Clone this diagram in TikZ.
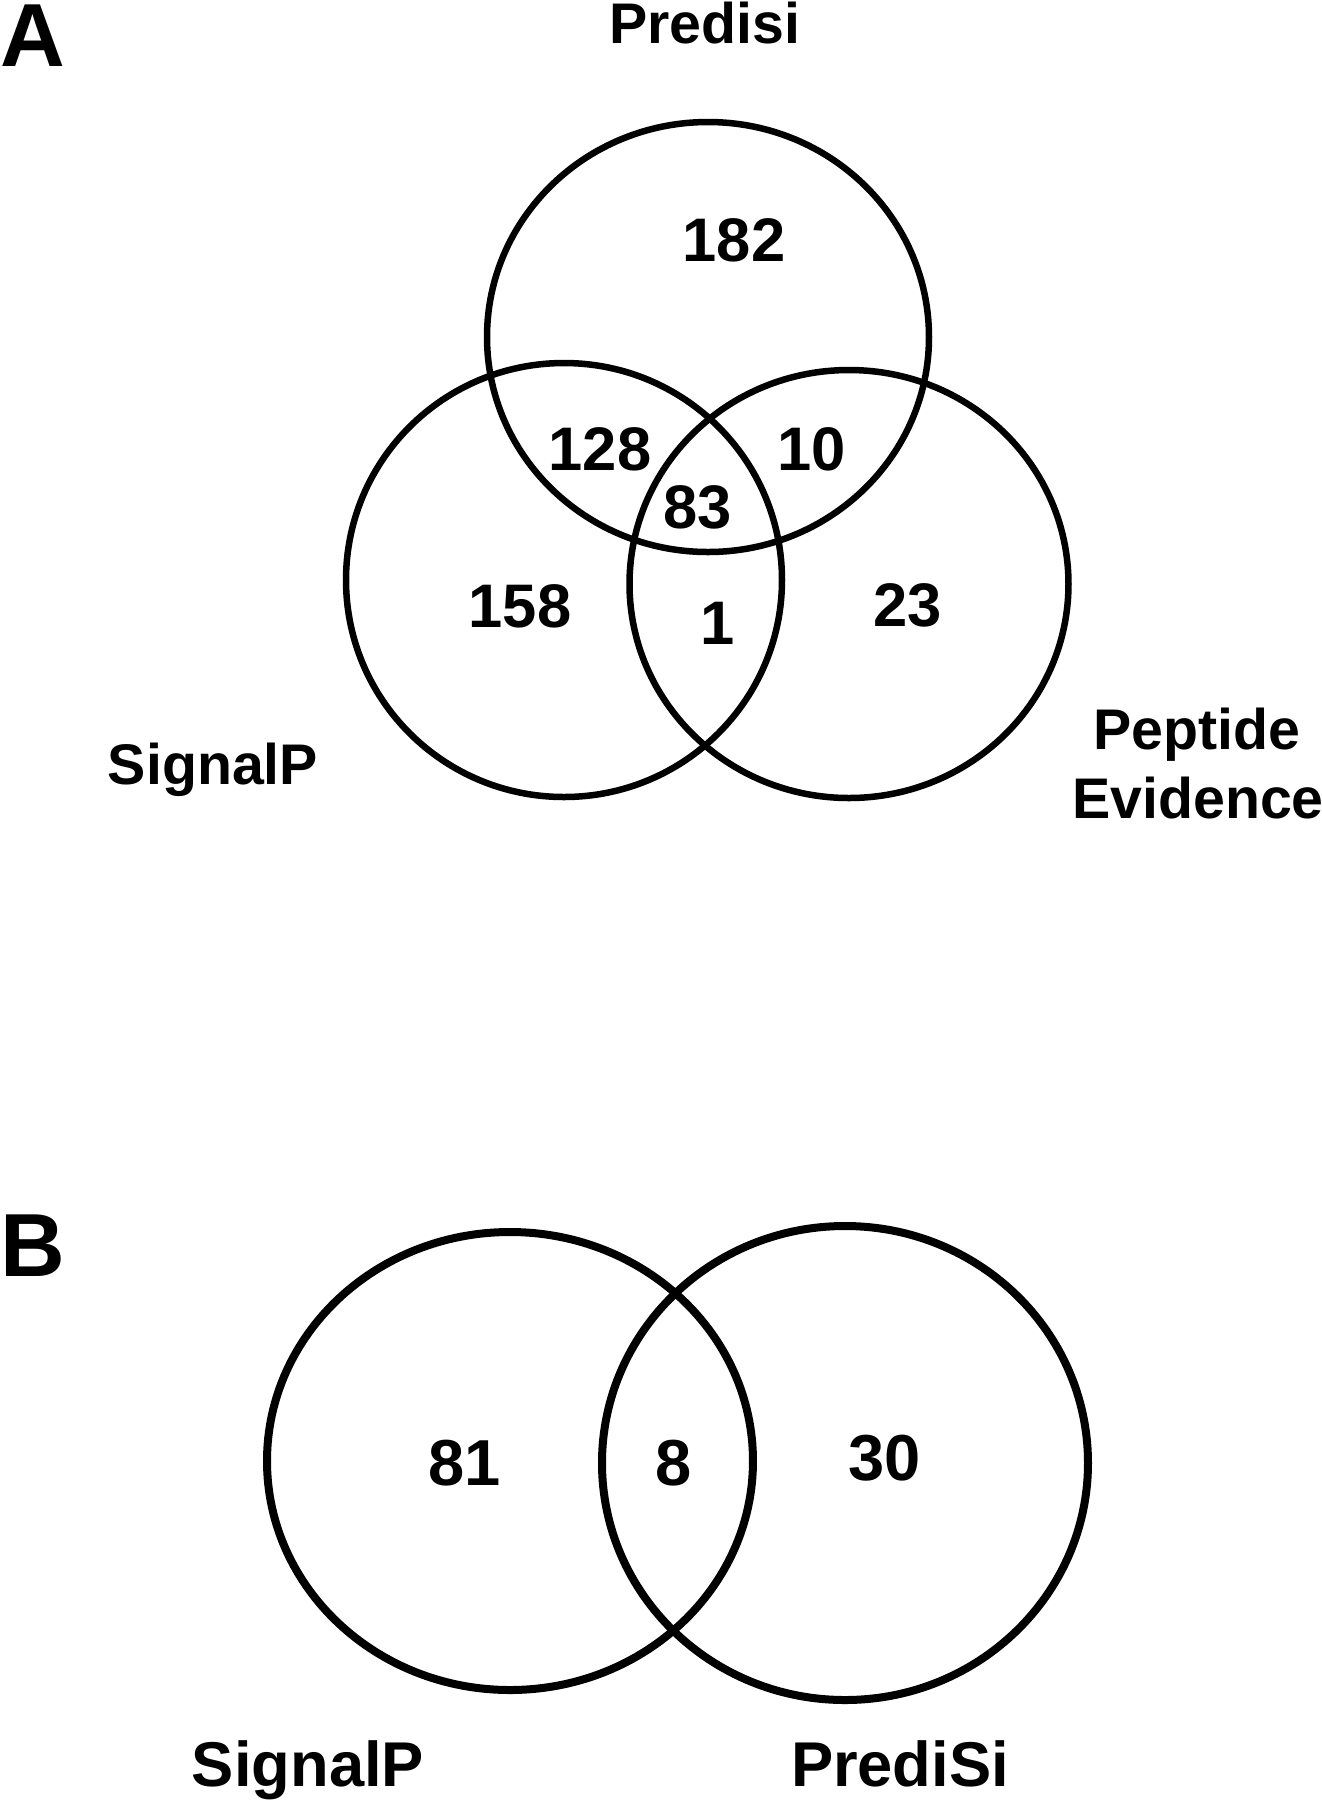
\documentclass[tikz,border=0pt]{standalone}
\usepackage{fontspec}
\setmainfont{Liberation Sans}
\usetikzlibrary{shapes.geometric}

\tikzset{
    venn/.style={draw, ellipse, line width=0.065cm},
    vennB/.style={draw, ellipse, line width=0.08cm},
    panel/.style={anchor=base west, font=\fontsize{25.5}{28}\selectfont\bfseries},
    setlbl/.style={anchor=base, font=\fontsize{16.3}{19}\selectfont\bfseries},
    setlblB/.style={anchor=base, font=\fontsize{18}{21}\selectfont\bfseries},
    cnt/.style={anchor=base, font=\fontsize{17.5}{20}\selectfont\bfseries},
    cntB/.style={anchor=base, font=\fontsize{18.5}{21}\selectfont\bfseries}
}

\begin{document}
\begin{tikzpicture}[inner sep=0pt,outer sep=0pt]
    \useasboundingbox (0,0) rectangle (13.22,-18);

    % panel A
    \node[panel] (panel_a) at (0, -0.66) {A};
    \node[venn, minimum width=4.42cm, minimum height=4.30cm] (predisi) at (7.08, -3.37) {};
    \node[venn, minimum width=4.36cm, minimum height=4.34cm] (signalp) at (5.64, -5.80) {};
    \node[venn, minimum width=4.39cm, minimum height=4.28cm] (peptide) at (8.49, -5.84) {};

    \node[setlbl] (predisi_lbl) at (7.05, -0.43) {Predisi};
    \node[setlbl] (signalp_lbl) at (2.13, -7.84) {SignalP};
    \node[setlbl] (peptide_lbl) at (11.97, -7.49) {Peptide};
    \node[setlbl] (evidence_lbl) at (11.98, -8.18) {Evidence};

    \node[cnt] (n_p) at (7.34, -2.61) {182};
    \node[cnt] (n_sp) at (6.00, -4.70) {128};
    \node[cnt] (n_pe) at (8.12, -4.70) {10};
    \node[cnt] (n_spe) at (6.98, -5.28) {83};
    \node[cnt] (n_s) at (5.20, -6.27) {158};
    \node[cnt] (n_se) at (7.18, -6.44) {1};
    \node[cnt] (n_e) at (9.08, -6.26) {23};

    % panel B
    \node[panel] (panel_b) at (0, -12.76) {B};
    \node[vennB, minimum width=4.86cm, minimum height=4.58cm] (signalp_b) at (5.10, -14.61) {};
    \node[vennB, minimum width=4.86cm, minimum height=4.74cm] (predisi_b) at (8.45, -14.63) {};

    \node[cntB] (m_s) at (4.65, -14.85) {81};
    \node[cntB] (m_sp) at (6.74, -14.85) {8};
    \node[cntB] (m_p) at (8.85, -14.80) {30};

    \node[setlblB] (signalp_b_lbl) at (3.08, -17.86) {SignalP};
    \node[setlblB] (predisi_b_lbl) at (9.00, -17.86) {PrediSi};
\end{tikzpicture}
\end{document}
